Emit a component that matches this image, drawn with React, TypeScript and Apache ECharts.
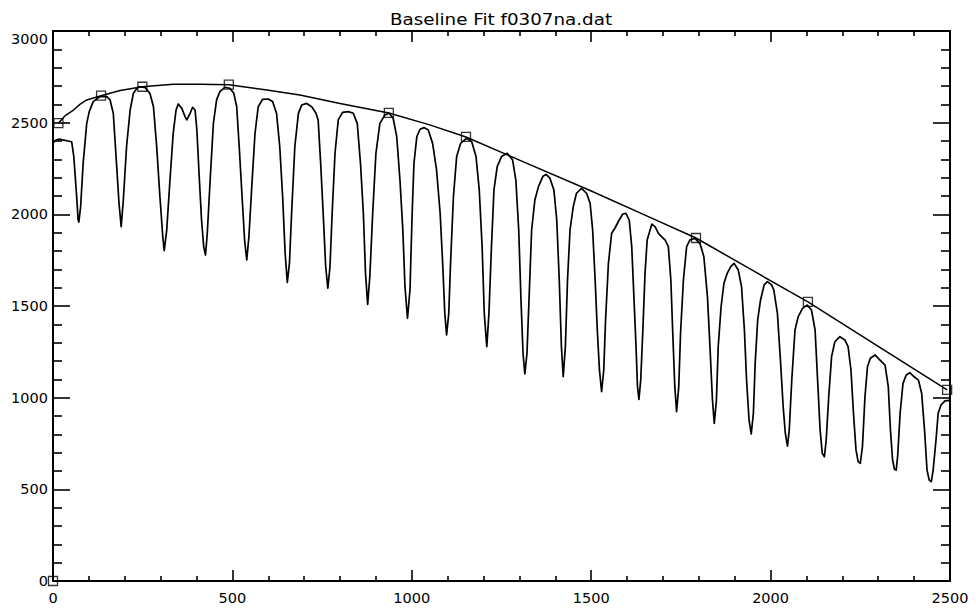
import React, { useEffect, useRef } from "react";
import * as echarts from "echarts";

const TITLE = "Baseline Fit f0307na.dat";
const X_TICKS = [0, 500, 1000, 1500, 2000, 2500];
const Y_TICKS = [0, 500, 1000, 1500, 2000, 2500, 3000];

// measured spectrum [x, counts]
const spectrum: [number, number][] = [
  [0,2390],[8,2405],[18,2410],[30,2405],[42,2400],[52,2396],[58,2315],[66,2096],[70,1969],[72,1958],[77,2042],[84,2278],[94,2496],[101,2560],[112,2615],[131,2642],[150,2642],[159,2624],[168,2551],[177,2278],[184,2060],[190,1933],[196,2078],[205,2369],[215,2569],[224,2660],[237,2696],[256,2693],[270,2660],[280,2587],[289,2369],[298,2096],[306,1878],[310,1802],[317,1915],[326,2187],[335,2442],[343,2569],[349,2602],[359,2578],[368,2533],[373,2515],[382,2551],[389,2584],[396,2569],[401,2460],[408,2187],[414,1969],[420,1824],[425,1778],[430,1897],[438,2187],[447,2496],[456,2624],[465,2669],[479,2693],[493,2687],[504,2660],[512,2587],[519,2369],[527,2096],[534,1860],[540,1751],[546,1878],[554,2151],[563,2442],[572,2587],[584,2627],[600,2629],[612,2615],[623,2551],[632,2369],[640,2096],[647,1787],[653,1629],[659,1733],[665,2006],[674,2369],[684,2551],[693,2596],[707,2605],[721,2587],[733,2551],[739,2515],[746,2278],[753,2006],[760,1715],[766,1597],[772,1715],[778,2006],[786,2333],[795,2515],[807,2556],[823,2560],[837,2551],[848,2496],[857,2278],[865,2006],[871,1678],[877,1509],[883,1660],[891,2006],[900,2333],[911,2496],[925,2542],[937,2551],[948,2524],[958,2424],[967,2187],[975,1915],[981,1605],[988,1433],[995,1590],[1001,2006],[1006,2278],[1014,2424],[1023,2464],[1034,2473],[1046,2460],[1058,2387],[1069,2242],[1079,2006],[1086,1733],[1092,1460],[1097,1342],[1103,1460],[1108,1733],[1116,2096],[1125,2315],[1136,2387],[1153,2415],[1167,2396],[1179,2315],[1188,2133],[1196,1824],[1202,1460],[1209,1278],[1215,1460],[1222,1824],[1229,2133],[1238,2260],[1250,2315],[1266,2333],[1281,2296],[1290,2187],[1298,1915],[1304,1551],[1310,1242],[1315,1129],[1321,1242],[1327,1551],[1334,1915],[1343,2078],[1353,2151],[1365,2206],[1374,2218],[1385,2197],[1396,2133],[1404,1969],[1411,1642],[1417,1278],[1422,1114],[1428,1278],[1434,1642],[1441,1915],[1450,2042],[1459,2115],[1473,2142],[1487,2115],[1497,2060],[1504,1915],[1511,1642],[1517,1369],[1523,1151],[1529,1033],[1535,1151],[1540,1424],[1548,1733],[1557,1897],[1566,1924],[1578,1969],[1588,2002],[1597,2005],[1606,1969],[1613,1824],[1619,1551],[1625,1278],[1629,1060],[1633,991],[1638,1096],[1644,1369],[1650,1678],[1656,1860],[1669,1947],[1678,1933],[1687,1897],[1696,1878],[1706,1860],[1715,1824],[1722,1642],[1727,1369],[1733,1060],[1738,924],[1744,1060],[1749,1351],[1757,1642],[1766,1824],[1775,1860],[1789,1869],[1803,1842],[1814,1769],[1824,1551],[1831,1278],[1838,987],[1843,860],[1849,987],[1854,1278],[1862,1496],[1870,1624],[1879,1678],[1889,1715],[1898,1733],[1910,1696],[1919,1605],[1927,1369],[1933,1096],[1940,878],[1946,802],[1952,915],[1957,1187],[1964,1424],[1972,1533],[1982,1615],[1991,1633],[2003,1615],[2009,1587],[2019,1460],[2028,1187],[2035,951],[2041,806],[2047,736],[2052,824],[2059,1096],[2068,1369],[2077,1442],[2089,1487],[2102,1505],[2114,1478],[2124,1369],[2131,1096],[2138,824],[2144,696],[2150,678],[2155,769],[2162,1005],[2170,1224],[2179,1305],[2193,1333],[2207,1315],[2216,1278],[2224,1151],[2231,915],[2238,715],[2244,651],[2250,642],[2256,733],[2263,1005],[2270,1169],[2278,1215],[2291,1233],[2305,1205],[2319,1178],[2328,1060],[2334,824],[2340,660],[2345,610],[2350,605],[2354,678],[2361,915],[2369,1078],[2378,1124],[2388,1136],[2400,1114],[2412,1096],[2421,1024],[2429,824],[2436,605],[2442,551],[2448,542],[2453,605],[2461,769],[2467,915],[2475,960],[2486,982],[2500,985]
];

// fitted baseline curve
const baseline: [number, number][] = [
  [15,2497],[35,2540],[57,2569],[75,2600],[94,2624],[134,2647],[187,2675],[249,2696],[335,2709],[410,2710],[490,2707],[596,2678],[688,2651],[800,2605],[936,2553],[1050,2488],[1151,2422],[1300,2296],[1497,2130],[1650,1996],[1792,1871],[1950,1694],[2104,1522],[2300,1280],[2492,1042]
];

// baseline anchor points (squares)
const anchors: [number, number][] = [
  [15,2497],[134,2647],[249,2696],[490,2707],[936,2553],[1151,2422],[1792,1871],[2104,1522],[2492,1042],[0,0]
];

const FONT = "DejaVu Sans";

export default function App() {
  const ref = useRef<HTMLDivElement>(null);
  useEffect(() => {
    if (!ref.current) return;
    const chart = echarts.init(ref.current, null, { renderer: "svg" });
    const axisLine = { show: true, onZero: false, lineStyle: { color: "#000", width: 2 } };
    const fmt = (v: number) => String(v);
    const xBase = {
      type: "value" as const,
      min: X_TICKS[0],
      max: X_TICKS[X_TICKS.length - 1],
      interval: 500,
      splitLine: { show: false },
      axisLine,
      axisTick: { show: true, inside: true, length: 11, lineStyle: { color: "#000", width: 1.6 } },
      minorTick: { show: true, splitNumber: 5, length: 5, lineStyle: { color: "#000", width: 1.6 } },
      minorSplitLine: { show: false },
    };
    const yBase = {
      type: "value" as const,
      min: Y_TICKS[0],
      max: Y_TICKS[Y_TICKS.length - 1],
      interval: 500,
      splitLine: { show: false },
      axisLine,
      axisTick: { show: true, inside: true, length: 17, lineStyle: { color: "#000", width: 1.6 } },
      minorTick: { show: true, splitNumber: 5, length: 9, lineStyle: { color: "#000", width: 1.6 } },
      minorSplitLine: { show: false },
    };
    chart.setOption({
      animation: false,
      backgroundColor: "#fff",
      graphic: [
        {
          type: "text",
          x: 501,
          y: 12,
          scaleX: 1.22,
          style: {
            text: TITLE,
            font: `15px "${FONT}"`,
            fill: "#000",
            textAlign: "center",
            textVerticalAlign: "top",
          },
        },
      ],
      grid: { left: 53, right: 26, top: 31, bottom: 30, containLabel: false },
      xAxis: [
        {
          ...xBase,
          position: "bottom",
          axisLabel: { show: true, margin: 9, color: "#000", fontSize: 14.5, fontFamily: FONT, formatter: fmt },
        },
        {
          ...xBase,
          position: "top",
          axisLabel: { show: false },
        },
      ],
      yAxis: [
        {
          ...yBase,
          position: "left",
          axisLabel: {
            show: true,
            margin: 5,
            color: "#000",
            fontSize: 14.5,
            fontFamily: FONT,
            formatter: fmt,
            verticalAlignMaxLabel: "top",
          },
        },
        {
          ...yBase,
          position: "right",
          axisLabel: { show: false },
        },
      ],
      series: [
        {
          type: "line",
          data: spectrum,
          xAxisIndex: 0,
          yAxisIndex: 0,
          showSymbol: false,
          smooth: false,
          lineStyle: { color: "#000", width: 1.7, join: "round" },
        },
        {
          type: "line",
          data: baseline,
          xAxisIndex: 0,
          yAxisIndex: 0,
          showSymbol: false,
          smooth: false,
          lineStyle: { color: "#000", width: 1.5, join: "round" },
        },
        {
          type: "scatter",
          data: anchors,
          xAxisIndex: 0,
          yAxisIndex: 0,
          symbol: "rect",
          symbolSize: 9,
          clip: false,
          itemStyle: { color: "rgba(255,255,255,0)", borderColor: "#000", borderWidth: 1.3 },
          z: 5,
        },
      ],
    });
    return () => chart.dispose();
  }, []);
  return (
    <div
      ref={ref}
      style={{ position: "fixed", left: 0, top: 0, width: 976, height: 611, background: "#fff" }}
    />
  );
}
